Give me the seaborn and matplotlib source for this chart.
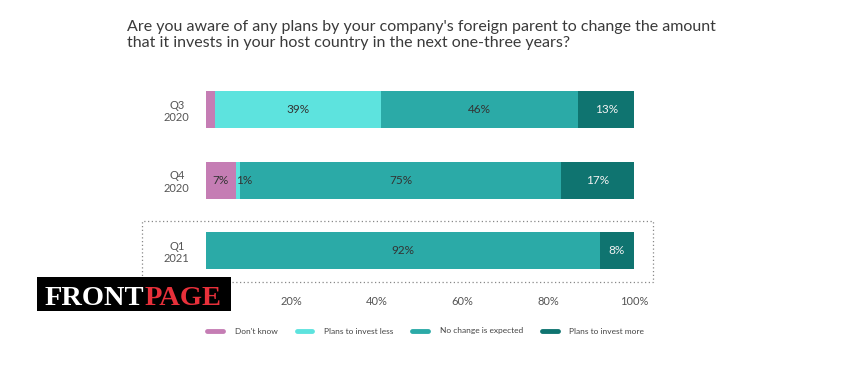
import matplotlib
matplotlib.use("Agg")
import matplotlib.pyplot as plt
import seaborn as sns
import numpy as np
import pandas as pd
from matplotlib.patches import Rectangle

# data
periods = ["Q3\n2020", "Q4\n2020", "Q1\n2021"]
series = ["Don't know", "Plans to invest less", "No change is expected", "Plans to invest more"]
dont_know = [2, 7, 0]
invest_less = [39, 1, 0]
no_change = [46, 75, 92]
invest_more = [13, 17, 8]
ticks = [20, 40, 60, 80, 100]
tick_labels = ["20%", "40%", "60%", "80%", "100%"]

colors = ["#C57DB4", "#5DE3DE", "#2BAAA7", "#0F7470"]
text_colors = ["#333333", "#333333", "#333333", "#F2F2F2"]

sns.set_style("white")
plt.rcParams['font.family'] = ['Lato', 'DejaVu Sans']

values = np.array([dont_know, invest_less, no_change, invest_more], dtype=float)
cum = values.cumsum(axis=0)

fig = plt.figure(figsize=(8.53, 3.79), dpi=100)
W, H = 853, 379
ax = fig.add_axes([206 / W, 1 - 290 / H, (634 - 206) / W, (290 - 85) / H])

# stacked bars: draw cumulative totals from the longest to the shortest
for i in reversed(range(len(series))):
    df = pd.DataFrame({"period": periods, "value": cum[i]})
    sns.barplot(data=df, x="value", y="period", color=colors[i], width=0.525,
                saturation=1, linewidth=0, ax=ax, order=periods)

# segment labels
hidden = {(0, 0)}
for i in range(len(series)):
    for j in range(len(periods)):
        v = values[i, j]
        if v <= 0 or (i, j) in hidden:
            continue
        start = cum[i, j] - v
        if v < 3:
            ax.text(start, j, f"{v:.0f}%", ha="left", va="center",
                    fontsize=8.5, color=text_colors[i])
        else:
            ax.text(start + v / 2, j, f"{v:.0f}%", ha="center", va="center",
                    fontsize=8.5, color=text_colors[i])

ax.set_xlim(0, 100)
ax.set_ylim(2.56, -0.35)
ax.set_xticks(ticks)
ax.set_xticklabels(tick_labels)
ax.set_xlabel("")
ax.set_ylabel("")
ax.tick_params(axis="x", length=0, labelsize=8, labelcolor="#555555", pad=4)
ax.tick_params(axis="y", length=0, labelsize=8, labelcolor="#555555", pad=21)
for lab in ax.get_yticklabels():
    lab.set_horizontalalignment("center")
for s in ax.spines.values():
    s.set_visible(False)

# dotted box around latest period
fig.patches.append(Rectangle((142 / W, 1 - 282 / H), (653 - 142) / W, (282 - 221) / H,
                             transform=fig.transFigure, fill=False, edgecolor="#888888",
                             linestyle=(0, (1, 2)), linewidth=0.9))

# legend
handles = [plt.Line2D([0], [0], color=c, lw=3.5) for c in colors]
fig.legend(handles, series, loc="center left", bbox_to_anchor=(200 / W, 1 - 331 / H),
           ncol=4, frameon=False, fontsize=6, handlelength=1.9, handletextpad=1.4,
           columnspacing=2.25, labelcolor="#444444")

# title
fig.text(127 / W, 1 - 35 / H,
         "Are you aware of any plans by your company's foreign parent to change the amount\n"
         "that it invests in your host country in the next one-three years?",
         fontsize=11.5, color="#3a3a3a", ha="left", va="center", linespacing=1.25)

# logo
fig.patches.append(Rectangle((37 / W, 1 - 311 / H), (231 - 37) / W, (311 - 277) / H,
                             transform=fig.transFigure, facecolor="black", edgecolor="none",
                             zorder=5))
t1 = fig.text(45 / W, 1 - 305 / H, "FRONT", family="Liberation Serif", fontsize=20.5,
              weight="bold", color="white", ha="left", va="baseline", zorder=6)
fig.canvas.draw()
bb = t1.get_window_extent()
fig.text(bb.x1 / W, 1 - 305 / H, "PAGE", family="Liberation Serif", fontsize=20.5,
         weight="bold", color="#E8303A", ha="left", va="baseline", zorder=6)

plt.savefig("out.png", dpi=100)
